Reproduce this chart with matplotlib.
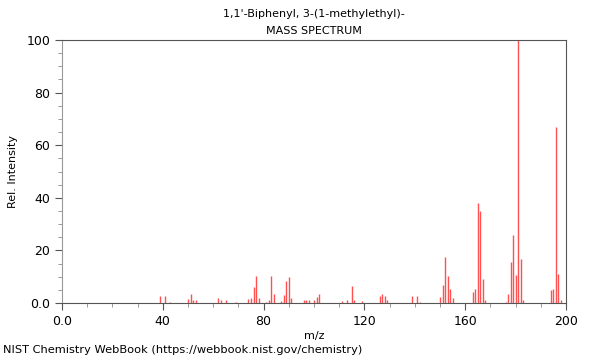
import matplotlib
matplotlib.use("Agg")
import matplotlib.pyplot as plt
from matplotlib.ticker import MultipleLocator, FuncFormatter

# m/z and relative intensity
mz = [39, 41, 43, 50, 51, 52, 53, 62, 63, 65, 69, 74, 75, 76, 77, 78,
      81, 82, 83, 84, 87, 88, 89, 90, 91, 96, 97, 98, 100, 101, 102,
      111, 113, 115, 116, 119, 126, 127, 128, 129, 139, 141, 142,
      150, 151, 152, 153, 154, 155, 163, 164, 165, 166, 167, 168,
      176, 177, 178, 179, 180, 181, 182, 183, 194, 195, 196, 197, 198]
intensity = [2.8, 2.7, 0.5, 1.5, 3.5, 1.0, 1.0, 2.0, 1.0, 1.0, 0.5, 1.5, 2.0, 6.2, 10.2, 2.0,
             0.5, 1.0, 10.3, 3.6, 0.8, 3.0, 8.3, 10.0, 1.8, 1.0, 1.0, 1.0, 1.0, 2.2, 3.5,
             0.6, 1.3, 6.5, 1.0, 0.6, 2.5, 3.5, 2.5, 1.0, 2.5, 2.5, 0.5,
             2.2, 6.7, 17.6, 10.2, 5.5, 2.0, 4.2, 5.2, 38.2, 35.0, 9.2, 1.0,
             0.5, 3.5, 15.5, 26.0, 10.6, 100.0, 16.8, 1.0, 5.0, 5.5, 66.8, 11.2, 1.0]

plt.rcParams['font.family'] = 'DejaVu Sans'
plt.rcParams['font.size'] = 8

fig = plt.figure(figsize=(6, 3.6), dpi=100)
ax = fig.add_axes([0.1033, 0.1583, 0.84, 0.7306])
ax.vlines(mz, 0, intensity, color='#ff3333', linewidth=1.0, alpha=0.85)

ax.set_xlim(0, 200)
ax.set_ylim(0, 100)
ax.xaxis.set_major_locator(MultipleLocator(40))
ax.xaxis.set_minor_locator(MultipleLocator(10))
ax.yaxis.set_major_locator(MultipleLocator(20))
ax.yaxis.set_minor_locator(MultipleLocator(5))
fmt = FuncFormatter(lambda v, p: "0.0" if v == 0 else f"{v:.0f}")
ax.xaxis.set_major_formatter(fmt)
ax.yaxis.set_major_formatter(fmt)
ax.tick_params(which='major', length=5, color='#555555', labelsize=9)
ax.tick_params(which='minor', length=3, color='#888888')
for s in ax.spines.values():
    s.set_color('#555555')
ax.spines['left'].set_color('#999999')

ax.set_xlabel("m/z", fontsize=8, labelpad=2)
ax.set_ylabel("Rel. Intensity", fontsize=8, labelpad=6)
ax.set_title("1,1'-Biphenyl, 3-(1-methylethyl)-\nMASS SPECTRUM", fontsize=8, linespacing=1.9, pad=4)
fig.text(0.005, 0.02, "NIST Chemistry WebBook (https://webbook.nist.gov/chemistry)", fontsize=8.2)

fig.savefig("out.png", dpi=100)
